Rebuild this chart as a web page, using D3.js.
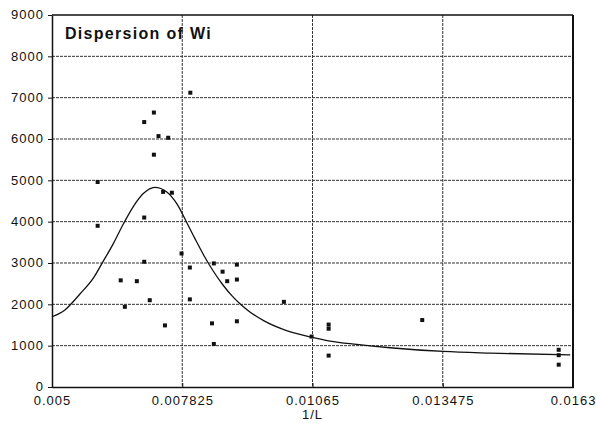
<!doctype html>
<html>
<head>
<meta charset="utf-8">
<title>Dispersion of Wi</title>
<script src="https://cdn.jsdelivr.net/npm/d3@7"></script>
<style>
  body { margin: 0; background: #fff; }
  text { font-family: Arial, "Liberation Sans", sans-serif; fill: #111; }
  .tick-label { font-size: 13px; letter-spacing: 1px; }
  .grid { stroke: #333; stroke-width: 1; stroke-dasharray: 3,1; }
</style>
</head>
<body>
<svg id="chart" width="596" height="423"></svg>
<script>
// tick values
var xTicks = [0.005, 0.007825, 0.01065, 0.013475, 0.0163];
var yTicks = [0, 1000, 2000, 3000, 4000, 5000, 6000, 7000, 8000, 9000];

// measured points (1/L, Wi dispersion)
var pointX = [0.00599, 0.00700, 0.00721, 0.00731, 0.00752, 0.00721, 0.00800, 0.00741, 0.00760, 0.00700,
              0.00599, 0.00700, 0.00649, 0.00684, 0.00658, 0.00712, 0.00745, 0.00781, 0.00799, 0.00799,
              0.00851, 0.00870, 0.00880, 0.00901, 0.00901, 0.00847, 0.00851, 0.00901, 0.01003, 0.01063,
              0.01100, 0.01100, 0.01100, 0.01303, 0.01599, 0.01599, 0.01599];
var pointY = [4960, 6410, 6640, 6070, 6030, 5620, 7120, 4720, 4700, 4100,
              3900, 3030, 2580, 2560, 1940, 2100, 1490, 3230, 2890, 2120,
              2990, 2790, 2560, 2960, 2600, 1540, 1040, 1590, 2060, 1220,
              1510, 1410, 760, 1620, 900, 770, 540];

// fitted curve
var curveX = [0.00500, 0.00528, 0.00561, 0.00590, 0.00611, 0.00633, 0.00655, 0.00676, 0.00698, 0.00723,
              0.00749, 0.00771, 0.00790, 0.00810, 0.00830, 0.00850, 0.00870, 0.00890,
              0.00910, 0.00930, 0.00960, 0.01000, 0.01063, 0.01103, 0.01161, 0.01233, 0.01349, 0.01450,
              0.01624];
var curveY = [1700, 1865, 2255, 2640, 3040, 3470, 3950, 4360, 4680, 4832,
              4720, 4430, 4030, 3590, 3170, 2800, 2480, 2210,
              1990, 1810, 1600, 1400, 1205, 1110, 1030, 950, 860, 820,
              775];

var svg = d3.select("#chart"),
    margin = {top: 15, right: 23, bottom: 36, left: 52},
    width = +svg.attr("width") - margin.left - margin.right,
    height = +svg.attr("height") - margin.top - margin.bottom,
    g = svg.append("g").attr("transform", "translate(" + margin.left + "," + margin.top + ")");

var x = d3.scaleLinear().domain([0.005, 0.0163]).range([0, width]);
var y = d3.scaleLinear().domain([0, 9000]).range([height, 0]);

// horizontal grid
g.selectAll(".hgrid")
  .data(yTicks.filter(function(d) { return d > 0 && d < 9000; }))
  .enter().append("line")
    .attr("class", "grid")
    .attr("x1", 0).attr("x2", width)
    .attr("y1", function(d) { return y(d); })
    .attr("y2", function(d) { return y(d); });

// vertical grid
g.selectAll(".vgrid")
  .data(xTicks.slice(1, -1))
  .enter().append("line")
    .attr("class", "grid")
    .attr("stroke-width", 1.3)
    .attr("x1", function(d) { return x(d); })
    .attr("x2", function(d) { return x(d); })
    .attr("y1", 0).attr("y2", height);

// axes
var xAxis = g.append("g")
    .attr("transform", "translate(0," + height + ")")
    .call(d3.axisBottom(x).tickValues(xTicks).tickSize(4).tickSizeOuter(0)
      .tickFormat(function(d) { return String(d); }));
var yAxis = g.append("g")
    .call(d3.axisLeft(y).tickValues(yTicks).tickSize(4).tickSizeOuter(0)
      .tickFormat(d3.format("d")));

[xAxis, yAxis].forEach(function(a) {
  a.select(".domain").attr("stroke", "#111").attr("stroke-width", 1.5);
  a.selectAll(".tick line").attr("stroke", "#111");
  a.selectAll(".tick text").attr("class", "tick-label").attr("fill", "#111");
});
xAxis.selectAll(".tick line").attr("y1", -4).attr("y2", 1);
xAxis.selectAll(".tick text").attr("y", 18).attr("dy", 0);
yAxis.selectAll(".tick text").attr("x", -8).attr("dy", "0.3em");

// top and right border
g.append("line").attr("x1", 0).attr("x2", width).attr("y1", 0).attr("y2", 0)
  .attr("stroke", "#111").attr("stroke-width", 1.5);
g.append("line").attr("x1", width).attr("x2", width).attr("y1", 0).attr("y2", height)
  .attr("stroke", "#111").attr("stroke-width", 2);

// curve
var line = d3.line()
    .x(function(d, i) { return x(curveX[i]); })
    .y(function(d, i) { return y(curveY[i]); })
    .curve(d3.curveMonotoneX);

g.append("path")
  .datum(curveY)
  .attr("d", line)
  .attr("fill", "none")
  .attr("stroke", "#111")
  .attr("stroke-width", 1.3);

// points
g.selectAll(".pt")
  .data(pointX)
  .enter().append("rect")
    .attr("class", "pt")
    .attr("x", function(d) { return x(d) - 2; })
    .attr("y", function(d, i) { return y(pointY[i]) - 2; })
    .attr("width", 4).attr("height", 4)
    .attr("fill", "#111");

// title and axis label
g.append("text")
  .attr("x", 13).attr("y", 24)
  .attr("font-size", "16px")
  .attr("font-weight", "bold")
  .attr("letter-spacing", "1.3px")
  .text("Dispersion of Wi");

svg.append("text")
  .attr("x", margin.left + x(0.01065))
  .attr("y", 419)
  .attr("text-anchor", "middle")
  .attr("class", "tick-label")
  .text("1/L");
</script>
</body>
</html>
